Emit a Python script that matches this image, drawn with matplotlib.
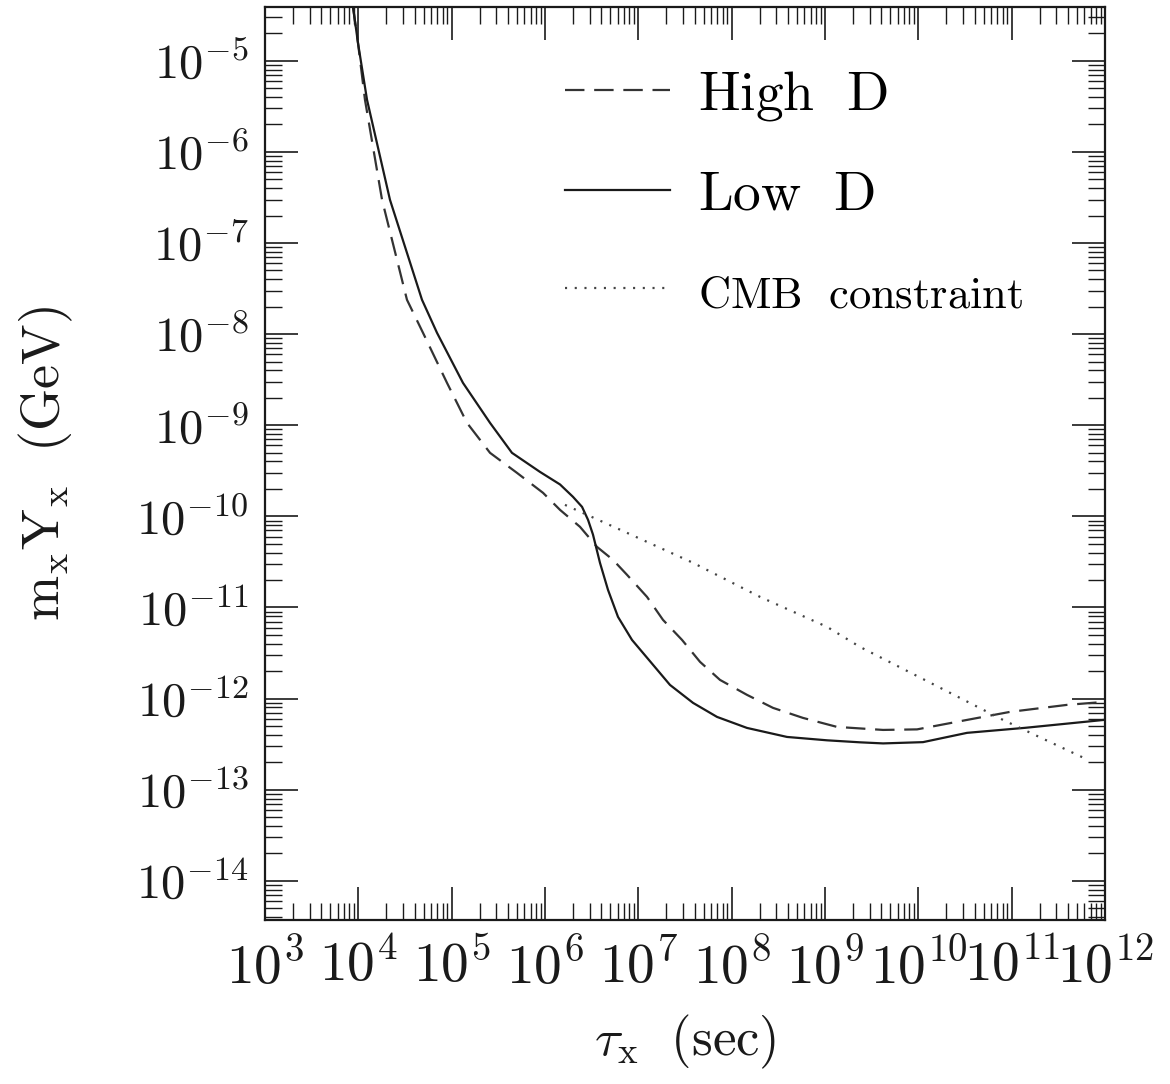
import matplotlib
matplotlib.use("Agg")
import matplotlib.pyplot as plt
import numpy as np
from matplotlib.ticker import LogLocator, NullFormatter, FixedLocator

plt.rcParams['mathtext.fontset'] = 'cm'
plt.rcParams['font.family'] = ['cmr10', 'DejaVu Serif']
plt.rcParams['axes.formatter.use_mathtext'] = True
plt.rcParams['lines.scale_dashes'] = False

# log10(tau_x [s]) and log10(m_x Y_x [GeV])
lowD_logtau = [3.943, 3.996, 4.093, 4.339, 4.682, 4.843, 5.121, 5.411, 5.646, 5.946,
               6.161, 6.300, 6.397, 6.461, 6.514, 6.589, 6.675, 6.782, 6.932, 7.125,
               7.339, 7.586, 7.843, 8.164, 8.593, 9.022, 9.375, 9.622, 10.050, 10.522,
               11.143, 12.0]
lowD_logy = [-4.41, -4.802, -5.428, -6.526, -7.623, -7.986, -8.535, -8.974, -9.303, -9.512,
             -9.650, -9.786, -9.896, -10.038, -10.200, -10.510, -10.807, -11.103, -11.356, -11.590,
             -11.850, -12.047, -12.201, -12.322, -12.421, -12.458, -12.480, -12.492, -12.478, -12.376,
             -12.321, -12.233]

highD_logtau = [3.943, 3.996, 4.071, 4.254, 4.521, 4.693, 4.950, 5.164, 5.411, 5.700,
                5.979, 6.161, 6.375, 6.557, 6.729, 6.879, 7.093, 7.264, 7.468, 7.661,
                7.875, 8.164, 8.443, 8.764, 9.129, 9.622, 9.986, 10.522, 10.982, 11.593,
                12.0]
highD_logy = [-4.41, -4.802, -5.428, -6.526, -7.623, -7.986, -8.535, -8.974, -9.303, -9.523,
              -9.742, -9.929, -10.115, -10.335, -10.478, -10.642, -10.884, -11.136, -11.356, -11.597,
              -11.795, -11.959, -12.102, -12.212, -12.311, -12.344, -12.338, -12.234, -12.146, -12.069,
              -12.036]

cmb_logtau = [6.214, 6.879, 7.586, 8.304, 9.022, 9.375, 10.340, 10.907, 11.818]
cmb_logy = [-9.874, -10.181, -10.510, -10.884, -11.213, -11.433, -11.937, -12.234, -12.673]

series_labels = [r'$\mathrm{High\ \ D}$', r'$\mathrm{Low\ \ D}$', r'$\mathrm{CMB\ \ constraint}$']

xtick_exps = list(range(3, 13))
ytick_exps = list(range(-14, -4))

fig = plt.figure(figsize=(11.70, 10.84), dpi=100)
ax = fig.add_axes([265/1170, 1 - 920/1084, (1105-265)/1170, (920-7)/1084])

col = '#1a1a1a'
l1, = ax.plot(10**np.array(highD_logtau), 10**np.array(highD_logy), color='#333333', lw=1.6,
              dashes=(14, 7))
l2, = ax.plot(10**np.array(lowD_logtau), 10**np.array(lowD_logy), color=col, lw=1.6)
l3, = ax.plot(10**np.array(cmb_logtau), 10**np.array(cmb_logy), color='#444444', lw=1.6,
              dashes=(1.5, 5.5))

ax.set_xscale('log')
ax.set_yscale('log')
ax.set_xlim(1e3, 1e12)
ax.set_ylim(10**-14.43, 10**-4.41)

ax.xaxis.set_major_locator(FixedLocator([10.0**e for e in xtick_exps]))
ax.yaxis.set_major_locator(FixedLocator([10.0**e for e in ytick_exps]))
ax.xaxis.set_minor_locator(LogLocator(base=10, subs=np.arange(2, 10), numticks=50))
ax.yaxis.set_minor_locator(LogLocator(base=10, subs=np.arange(2, 10), numticks=50))
ax.yaxis.set_minor_formatter(NullFormatter())
ax.xaxis.set_minor_formatter(NullFormatter())
ax.set_xticklabels([r'$10^{%d}$' % e for e in xtick_exps])
ax.set_yticklabels([r'$10^{%d}$' % e for e in ytick_exps])

ax.tick_params(which='both', direction='in', top=True, right=True, color=col)
ax.tick_params(which='major', length=24, width=1.2)
ax.tick_params(which='minor', length=12, width=1.0)
ax.tick_params(axis='x', which='major', labelsize=40, pad=14, colors=col)
ax.tick_params(axis='y', which='major', labelsize=35, pad=12, colors=col)
for s in ax.spines.values():
    s.set_linewidth(1.6)
    s.set_color(col)

ax.set_xlabel(r'$\tau_{\rm x}\ \ (\mathrm{sec})$', fontsize=38, color=col, labelpad=13)
ax.set_ylabel(r'$\mathrm{m_{\rm x}Y_{\rm x}\ \ (GeV)}$', fontsize=39, color=col, labelpad=44)

leg = ax.legend([l1, l2, l3], series_labels, loc='upper left', bbox_to_anchor=(0.357, 0.932),
                frameon=False, handlelength=1.9, handletextpad=0.49, labelspacing=0.86,
                borderpad=0, borderaxespad=0, fontsize=40)
texts = leg.get_texts()
texts[2].set_fontsize(32)

fig.savefig('out.png', dpi=100)
